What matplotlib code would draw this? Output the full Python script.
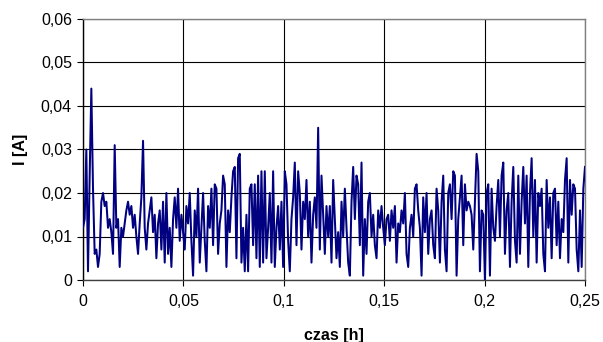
import numpy as np
import matplotlib
matplotlib.use("Agg")
import matplotlib.pyplot as plt
from matplotlib.ticker import FixedLocator, FuncFormatter

current = [
    # 0 - ~0.043 h
    0.012, 0.014, 0.030, 0.002, 0.024, 0.044, 0.021, 0.006, 0.007, 0.003,
    0.006, 0.018, 0.020, 0.017, 0.018, 0.012, 0.014, 0.011, 0.006, 0.031,
    0.012, 0.014, 0.003, 0.012, 0.010, 0.013, 0.016, 0.018, 0.015, 0.017,
    0.012, 0.015, 0.010, 0.006, 0.013, 0.019, 0.032, 0.012, 0.007, 0.013,
    0.016, 0.019, 0.011, 0.015, 0.005, 0.013, 0.016, 0.007, 0.018, 0.004,
    0.020, 0.006,
    # ~0.043 - 0.085 h
    0.012, 0.003, 0.014, 0.019, 0.012, 0.021, 0.009, 0.015, 0.011, 0.007,
    0.017, 0.013, 0.020, 0.009, 0.001, 0.016, 0.010, 0.021, 0.004, 0.012,
    0.020, 0.009, 0.002, 0.017, 0.012, 0.021, 0.008, 0.022, 0.021, 0.006,
    0.013, 0.016, 0.024, 0.022, 0.003, 0.016, 0.011, 0.019, 0.025, 0.026,
    0.005, 0.028, 0.029, 0.004, 0.012, 0.002, 0.015, 0.002, 0.021, 0.022,
    0.008,
    # 0.085 - 0.128 h
    0.022, 0.005, 0.024, 0.003, 0.025, 0.004, 0.025, 0.005, 0.012, 0.020,
    0.004, 0.025, 0.003, 0.012, 0.017, 0.007, 0.018, 0.003, 0.025, 0.022,
    0.009, 0.002, 0.014, 0.019, 0.027, 0.008, 0.025, 0.020, 0.007, 0.018,
    0.014, 0.023, 0.010, 0.018, 0.004, 0.015, 0.019, 0.012, 0.035, 0.007,
    0.024, 0.015, 0.006, 0.017, 0.010, 0.017, 0.004, 0.023, 0.014, 0.005,
    0.011,
    # 0.128 - 0.170 h
    0.003, 0.018, 0.010, 0.021, 0.012, 0.004, 0.001, 0.018, 0.026, 0.014,
    0.024, 0.022, 0.008, 0.027, 0.001, 0.014, 0.006, 0.018, 0.020, 0.010,
    0.015, 0.008, 0.005, 0.016, 0.012, 0.017, 0.012, 0.008, 0.014, 0.015,
    0.009, 0.016, 0.012, 0.017, 0.004, 0.013, 0.011, 0.016, 0.013, 0.020,
    0.006, 0.003, 0.012, 0.015, 0.010, 0.021, 0.022, 0.016, 0.012, 0.001,
    0.019,
    # 0.170 - 0.213 h
    0.011, 0.020, 0.006, 0.014, 0.016, 0.008, 0.005, 0.021, 0.016, 0.004,
    0.018, 0.024, 0.007, 0.002, 0.020, 0.022, 0.014, 0.025, 0.024, 0.001,
    0.014, 0.019, 0.024, 0.008, 0.022, 0.016, 0.018, 0.017, 0.015, 0.007,
    0.018, 0.029, 0.025, 0.002, 0.016, 0.015, 0.000, 0.020, 0.022, 0.001,
    0.021, 0.012, 0.009, 0.017, 0.023, 0.010, 0.024, 0.027, 0.006, 0.016,
    0.020,
    # 0.213 - 0.25 h
    0.003, 0.018, 0.026, 0.009, 0.004, 0.024, 0.006, 0.018, 0.026, 0.013,
    0.024, 0.003, 0.020, 0.028, 0.010, 0.023, 0.004, 0.020, 0.017, 0.021,
    0.006, 0.002, 0.023, 0.012, 0.019, 0.005, 0.020, 0.021, 0.008, 0.018,
    0.005, 0.014, 0.011, 0.023, 0.028, 0.004, 0.023, 0.015, 0.022, 0.021,
    0.007, 0.002, 0.016, 0.003, 0.021, 0.026,
]
t_start, t_end = 0.0, 0.25
x_ticks = [0, 0.05, 0.1, 0.15, 0.2, 0.25]
y_ticks = [0, 0.01, 0.02, 0.03, 0.04, 0.05, 0.06]
x_label = "czas [h]"
y_label = "I [A]"

time = np.linspace(t_start, t_end, len(current))

plt.rcParams['font.family'] = ['Liberation Sans', 'DejaVu Sans']

fig = plt.figure(figsize=(6.03, 3.42), dpi=100)
fig.patch.set_facecolor('white')
ax = fig.add_axes([83/603, 1-280/342, 502/603, 261/342])

ax.plot(time, current, color='#000080', lw=1.45, zorder=3)

ax.set_xlim(0, 0.25)
ax.set_ylim(0, 0.06)
ax.xaxis.set_major_locator(FixedLocator(x_ticks))
ax.yaxis.set_major_locator(FixedLocator(y_ticks))

def comma(v, pos):
    s = ('%.2f' % v).rstrip('0').rstrip('.')
    return s.replace('.', ',')

ax.xaxis.set_major_formatter(FuncFormatter(comma))
ax.yaxis.set_major_formatter(FuncFormatter(comma))

ax.grid(True, color='black', lw=0.8, zorder=1)
ax.set_axisbelow(True)

for s in ['top', 'right']:
    ax.spines[s].set_color('#808080')
    ax.spines[s].set_linewidth(1)
ax.spines['left'].set_color('black')
ax.spines['bottom'].set_color('#404040')
ax.spines['left'].set_linewidth(1)
ax.spines['bottom'].set_linewidth(1)

ax.tick_params(axis='both', direction='out', length=4, width=0.8,
               labelsize=11.5, colors='black')
ax.tick_params(axis='y', pad=4)
ax.tick_params(axis='x', pad=6)

ax.set_xlabel(x_label, fontsize=11.5, fontweight='bold')
ax.set_ylabel(y_label, fontsize=11.5, fontweight='bold')
ax.xaxis.set_label_coords(0.5, -0.185)
ax.yaxis.set_label_coords(-0.11, 0.5)

fig.savefig('out.png', dpi=100)
